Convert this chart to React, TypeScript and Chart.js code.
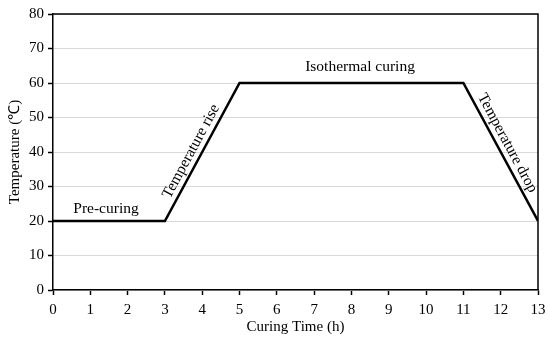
import React, { useEffect, useRef } from "react";
import { Chart, registerables } from "chart.js";

Chart.register(...registerables);

const timeHours = [0, 3, 5, 11, 13];
const temperatures = [20, 20, 60, 60, 20];
const xTitle = "Curing Time (h)";
const yTitle = "Temperature (℃)";
const stageLabels = ["Pre-curing", "Temperature rise", "Isothermal curing", "Temperature drop"];

const FONT = "'Liberation Serif', 'Times New Roman', serif";

const annotationPlugin = {
  id: "stageAnnotations",
  afterDatasetsDraw(chart: any) {
    const { ctx, chartArea, scales } = chart;
    const xs = scales.x;
    const ys = scales.y;
    ctx.save();
    ctx.strokeStyle = "#000";
    ctx.lineWidth = 1.5;
    ctx.beginPath();
    ctx.moveTo(chartArea.left, chartArea.top);
    ctx.lineTo(chartArea.right, chartArea.top);
    ctx.lineTo(chartArea.right, chartArea.bottom);
    ctx.stroke();

    ctx.fillStyle = "#000";
    ctx.font = `15.5px ${FONT}`;
    ctx.textAlign = "center";
    ctx.textBaseline = "middle";
    ctx.fillText(stageLabels[0], xs.getPixelForValue(1.42), ys.getPixelForValue(23.6));
    ctx.fillText(stageLabels[2], xs.getPixelForValue(8.23), ys.getPixelForValue(64.6));

    const p1x = xs.getPixelForValue(timeHours[1]);
    const p1y = ys.getPixelForValue(temperatures[1]);
    const p2x = xs.getPixelForValue(timeHours[2]);
    const p2y = ys.getPixelForValue(temperatures[2]);
    const a1 = Math.atan2(p2y - p1y, p2x - p1x);
    const mx1 = p1x + (p2x - p1x) * 0.47;
    const my1 = p1y + (p2y - p1y) * 0.47;
    ctx.save();
    ctx.translate(mx1, my1);
    ctx.rotate(a1);
    ctx.fillText(stageLabels[1], 0, -10);
    ctx.restore();

    const p3x = xs.getPixelForValue(timeHours[3]);
    const p3y = ys.getPixelForValue(temperatures[3]);
    const p4x = xs.getPixelForValue(timeHours[4]);
    const p4y = ys.getPixelForValue(temperatures[4]);
    const a2 = Math.atan2(p4y - p3y, p4x - p3x);
    const mx2 = p3x + (p4x - p3x) * 0.47;
    const my2 = p3y + (p4y - p3y) * 0.47;
    ctx.save();
    ctx.translate(mx2, my2);
    ctx.rotate(a2);
    ctx.fillText(stageLabels[3], 0, -10);
    ctx.restore();
    ctx.restore();
  },
};

export default function App() {
  const ref = useRef<HTMLCanvasElement>(null);
  useEffect(() => {
    if (!ref.current) return;
    const chart = new Chart(ref.current, {
      type: "line",
      data: {
        datasets: [
          {
            data: timeHours.map((x, i) => ({ x, y: temperatures[i] })),
            borderColor: "#000",
            borderWidth: 2.5,
            pointRadius: 0,
            tension: 0,
            fill: false,
          },
        ],
      },
      options: {
        animation: false,
        responsive: false,
        devicePixelRatio: 1,
        layout: { padding: { left: 0, right: 12, top: 14, bottom: 0 } },
        plugins: { legend: { display: false }, tooltip: { enabled: false } },
        scales: {
          x: {
            type: "linear",
            min: 0,
            max: 13,
            ticks: { stepSize: 1, color: "#000", font: { family: FONT, size: 15 }, padding: 6 },
            grid: { drawOnChartArea: false, tickLength: 5, tickColor: "#000", tickWidth: 1.5 },
            border: { display: true, color: "#000", width: 1.5 },
            title: { display: true, text: xTitle, color: "#000", font: { family: FONT, size: 15 }, padding: { top: 0, bottom: 7 } },
            afterFit(scale: any) {
              scale.height = 53;
              scale.paddingRight = 0;
              scale.paddingLeft = 0;
            },
          },
          y: {
            min: 0,
            max: 80,
            ticks: { stepSize: 10, color: "#000", font: { family: FONT, size: 15 }, padding: 4 },
            grid: { color: "#d9d9d9", lineWidth: 1, tickLength: 5, tickColor: "#000", tickWidth: 1.5 },
            border: { display: true, color: "#000", width: 1.5 },
            title: { display: true, text: yTitle, color: "#000", font: { family: FONT, size: 15 }, padding: { top: 6, bottom: 0 } },
            afterFit(scale: any) {
              scale.width = 53;
              scale.paddingTop = 0;
              scale.paddingBottom = 0;
            },
          },
        },
      },
      plugins: [annotationPlugin],
    });
    return () => chart.destroy();
  }, []);
  return (
    <div style={{ position: "fixed", left: 0, top: 0, width: 550, height: 343, background: "#fff" }}>
      <canvas ref={ref} width={550} height={343} style={{ width: 550, height: 343 }} />
    </div>
  );
}
